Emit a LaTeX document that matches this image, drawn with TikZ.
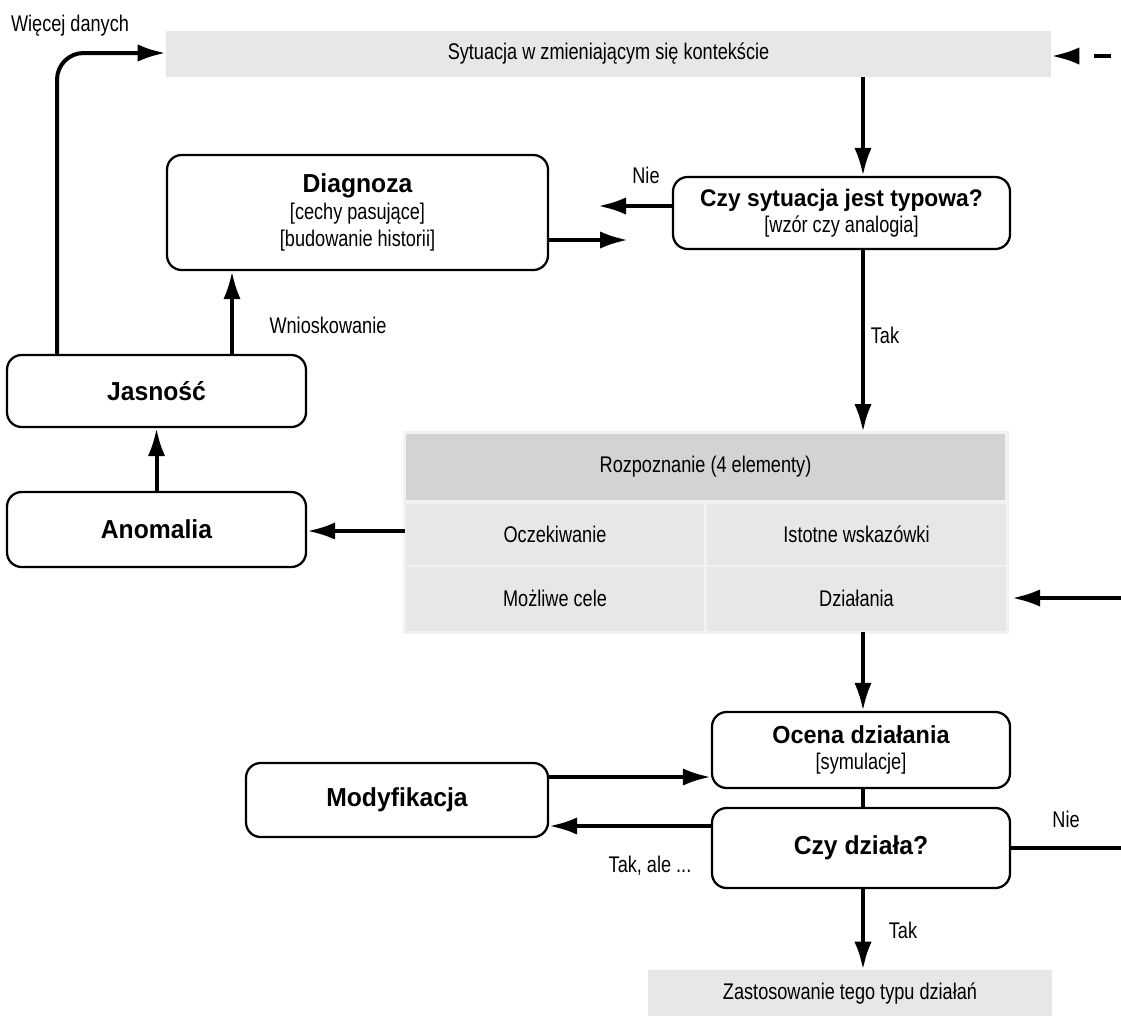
\documentclass[tikz,border=0pt]{standalone}
\usepackage{fontspec}
\setmainfont{Liberation Sans}[FakeStretch=0.8]
\newfontfamily\boldface{Liberation Sans}[FakeStretch=0.95]
\usetikzlibrary{arrows.meta}
\definecolor{barfill}{HTML}{E6E7E8}
\definecolor{headfill}{HTML}{D1D3D4}
\definecolor{tabedge}{HTML}{F1F2F2}
\newcommand{\boxtitle}[2][18]{{\boldface\fontsize{#1}{21}\selectfont\bfseries #2}}
\begin{document}
\begin{tikzpicture}[x=0.75pt,y=-0.75pt,
  box/.style={draw=black,line width=1.7pt,rounded corners=11pt,fill=white,align=center,inner sep=0pt},
  bar/.style={fill=barfill,inner sep=0pt,font=\fontsize{17}{19}\selectfont},
  cell/.style={fill=barfill,inner sep=0pt,font=\fontsize{17}{19}\selectfont},
  lbl/.style={font=\fontsize{17}{19}\selectfont,inner sep=0pt},
  conn/.style={line width=3pt,-{Latex[length=21pt,width=13pt]}},
  plain/.style={line width=3pt},
  title/.style={font=\boldface\fontsize{19.5}{22}\selectfont\bfseries},
  twoline/.style={font=\fontsize{17}{20}\selectfont}
]
\useasboundingbox (0,0) rectangle (1121,1015);

% top and bottom bars
\node[bar,minimum width=885*0.75pt,minimum height=46*0.75pt] (sit) at (608.5,54) {Sytuacja w zmieniającym się kontekście};
\node[bar,minimum width=404*0.75pt,minimum height=46*0.75pt] (zast) at (850,993) {Zastosowanie tego typu działań};

% rounded boxes
\node[box,twoline,minimum width=337*0.75pt,minimum height=72*0.75pt] (typ) at (841.5,213)
  {\boxtitle{Czy sytuacja jest typowa?}\\[0pt]{[wzór czy analogia]}};
\node[box,twoline,minimum width=381*0.75pt,minimum height=115*0.75pt] (diag) at (357.5,212.5)
  {\boxtitle[19.5]{Diagnoza}\\[0pt]{[cechy pasujące]}\\{[budowanie historii]}};
\node[box,minimum width=299*0.75pt,minimum height=72*0.75pt,title] (jas) at (156.5,391) {Jasność};
\node[box,minimum width=299*0.75pt,minimum height=75*0.75pt,title] (anom) at (156.5,529.5) {Anomalia};
\node[box,twoline,minimum width=298*0.75pt,minimum height=76*0.75pt] (ocena) at (861,750)
  {\boxtitle[18.5]{Ocena działania}\\[0pt]{[symulacje]}};
\node[box,minimum width=298*0.75pt,minimum height=80*0.75pt,title] (dziala) at (861,848) {Czy działa?};
\node[box,minimum width=302*0.75pt,minimum height=74*0.75pt,title] (mod) at (397,800) {Modyfikacja};

% recognition table
\fill[tabedge] (403,431) rectangle (1009,634);
\node[fill=headfill,minimum width=599*0.75pt,minimum height=66*0.75pt,inner sep=0pt,font=\fontsize{17}{19}\selectfont] (rozp) at (705.5,467) {Rozpoznanie (4 elementy)};
\node[cell,minimum width=298*0.75pt,minimum height=61*0.75pt] (ocz) at (555,534) {Oczekiwanie};
\node[cell,minimum width=299*0.75pt,minimum height=61*0.75pt] (isto) at (856.5,534) {Istotne wskazówki};
\node[cell,minimum width=298*0.75pt,minimum height=64*0.75pt] (cele) at (555,598.5) {Możliwe cele};
\node[cell,minimum width=299*0.75pt,minimum height=64*0.75pt] (dzia) at (856.5,598.5) {Działania};
\coordinate (tabW) at (405,531);
\coordinate (tabT) at (863,432);
\coordinate (tabB) at (863,632);

% free ends of connectors
\coordinate (rin) at (1111,56);
\coordinate (diagIn) at (598,206);
\coordinate (diagOut) at (628,240);
\coordinate (dzIn) at (1121,598);
\coordinate (nieOut) at (1121,848);

% labels
\node[lbl] (l1) at (70,26) {Więcej danych};
\node[lbl] (l2) at (646,175) {Nie};
\node[lbl] (l3) at (328,325) {Wnioskowanie};
\node[lbl] (l4) at (885,335) {Tak};
\node[lbl] (l5) at (1066,819) {Nie};
\node[lbl] (l6) at (650,866) {Tak, ale ...};
\node[lbl] (l7) at (903,930) {Tak};

% connectors
\draw[conn,dash pattern=on 13 off 13] (rin) -- (sit.east|-rin);
\draw[conn] (sit.south-|863,0) -- (typ.north-|863,0);
\draw[conn] (typ.west|-diagIn) -- (diagIn);
\draw[conn] (diag.east|-diagOut) -- (diagOut);
\draw[conn] (typ.south-|863,0) -- (tabT);
\draw[conn] (tabW) -- (anom.east|-tabW);
\draw[conn] (anom.north) -- (jas.south);
\draw[conn] (jas.north-|232,0) -- (diag.south-|232,0);
\draw[conn,rounded corners=20pt] (jas.north-|57,0) -- (57,53) -- (sit.west|-0,53);
\draw[conn] (dzIn) -- (1012,598);
\draw[conn] (tabB) -- (ocena.north-|863,0);
\draw[plain] (ocena.south-|863,0) -- (dziala.north-|863,0);
\draw[conn] (mod.east|-0,777) -- (ocena.west|-0,777);
\draw[conn] (dziala.west|-0,826) -- (mod.east|-0,826);
\draw[plain] (dziala.east) -- (nieOut);
\draw[conn] (dziala.south-|863,0) -- (zast.north-|863,0);
\end{tikzpicture}
\end{document}
